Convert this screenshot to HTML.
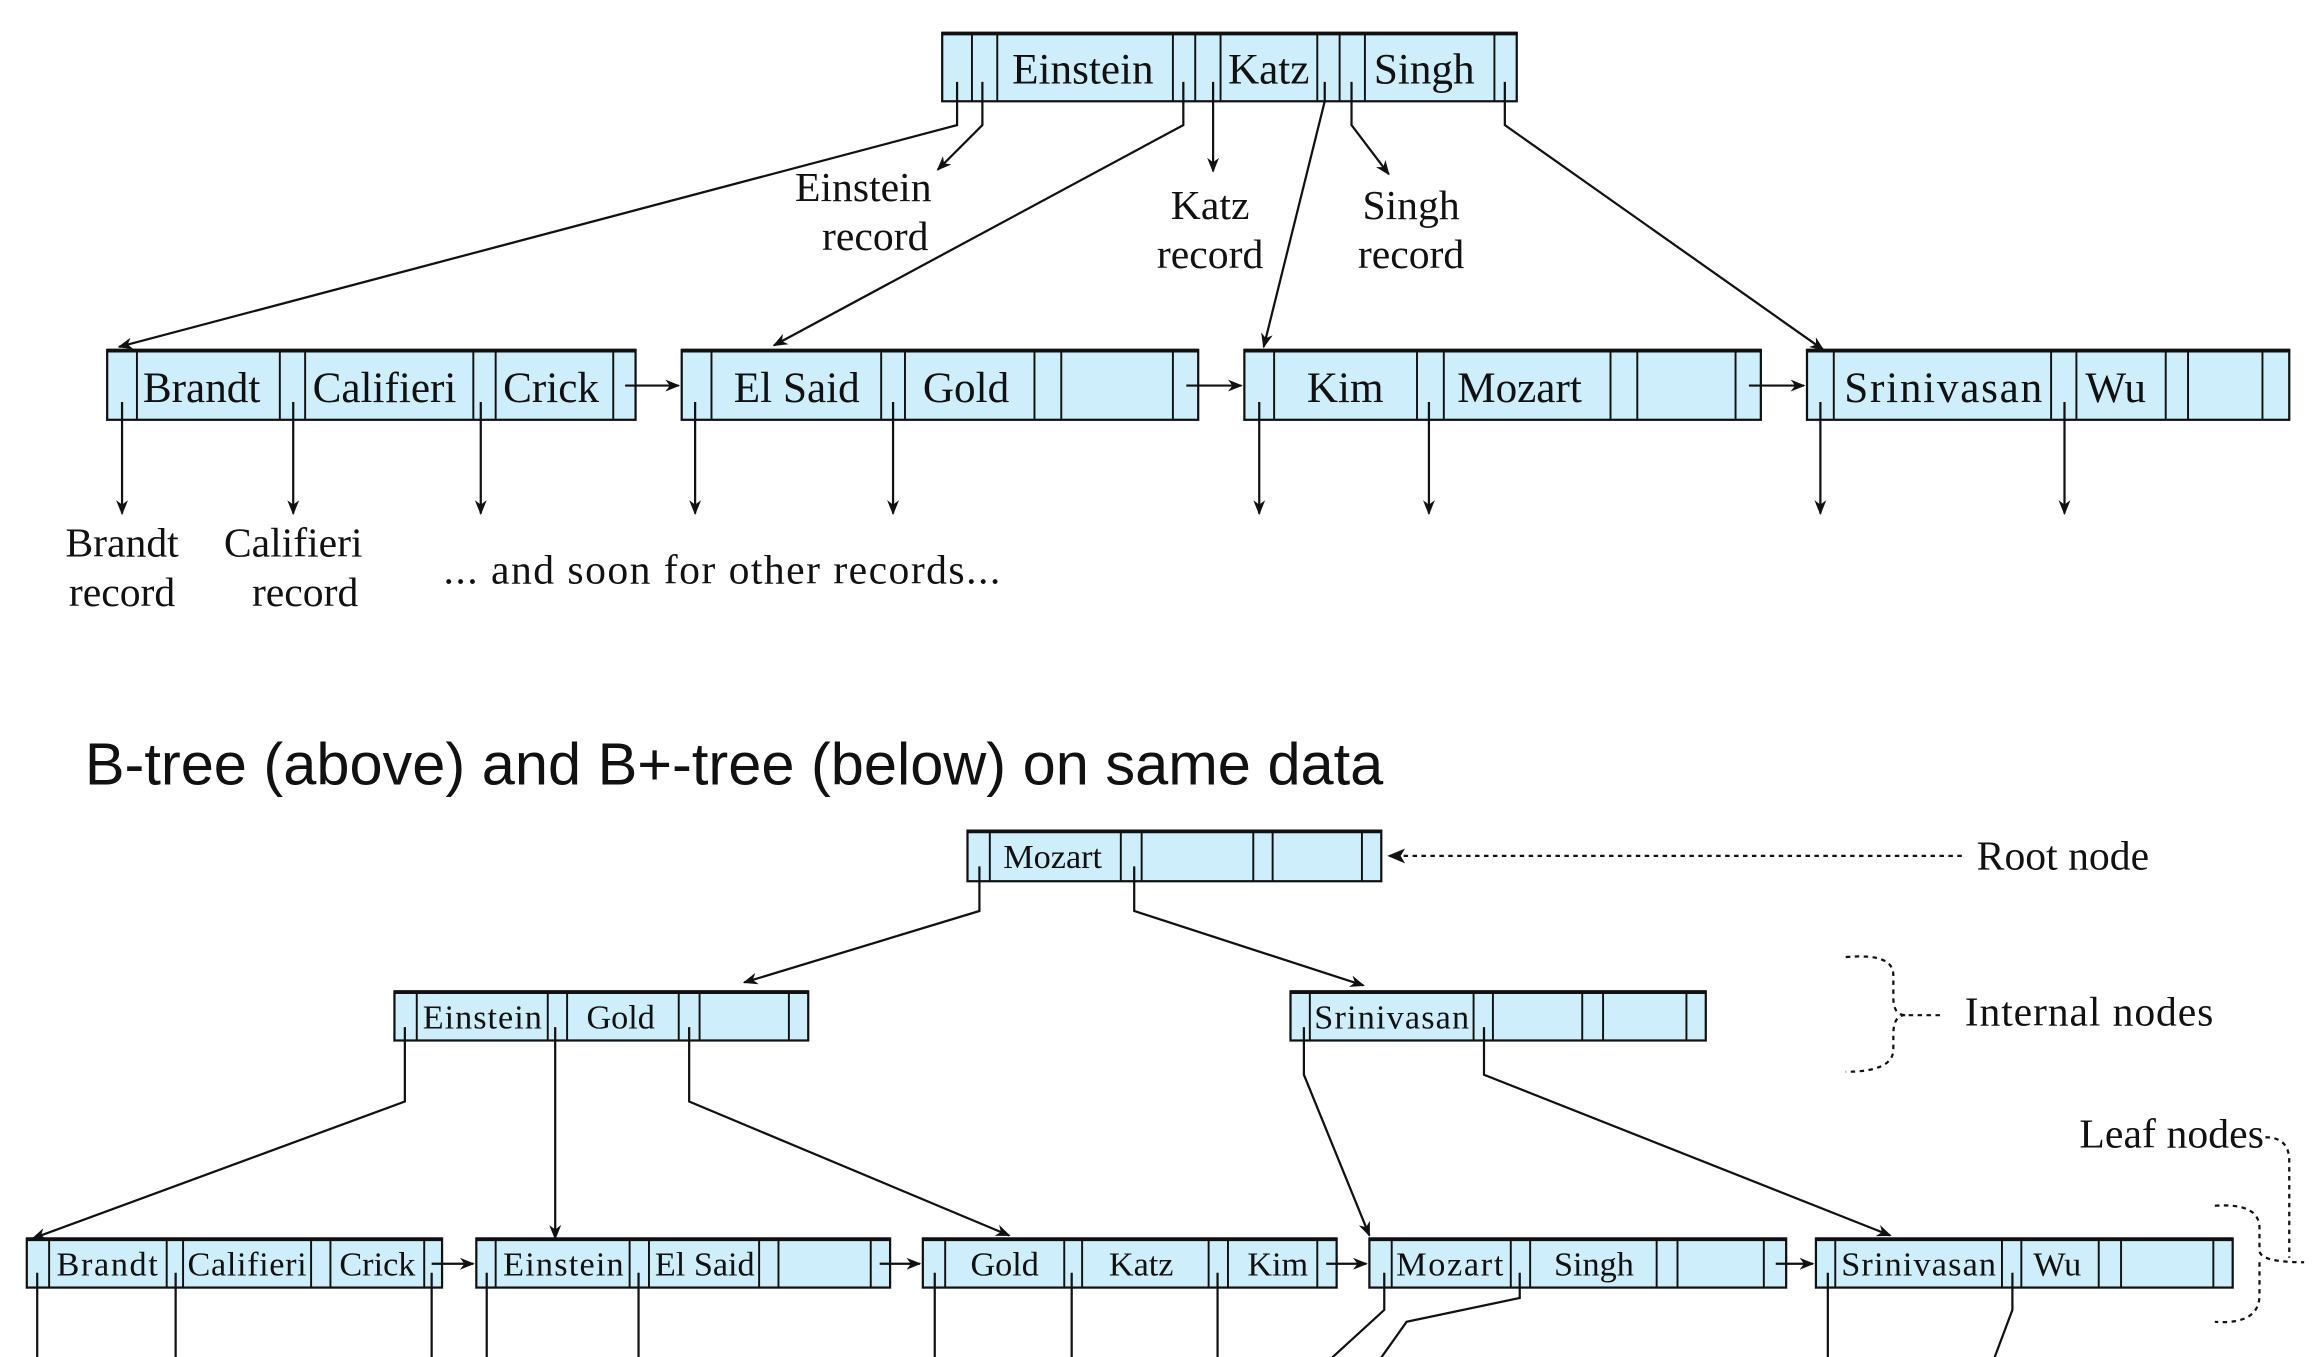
<!DOCTYPE html>
<html><head><meta charset="utf-8"><style>
html,body{margin:0;padding:0;background:#fff;}
svg{display:block;}
text{font-family:"Liberation Serif",serif;fill:#111;}
.n rect{fill:#cdeefa;stroke:#111;stroke-width:1.5;}
.n line{stroke:#111;stroke-width:1.3;}
.w{stroke:#111;stroke-width:1.5;fill:none;}
.d{stroke:#111;stroke-width:1.5;fill:none;stroke-dasharray:3,3;}
</style></head><body>
<svg width="2322" height="1357" viewBox="0 0 1560 911.6" xmlns="http://www.w3.org/2000/svg">
<defs>
<marker id="a" markerWidth="10" markerHeight="8" refX="9" refY="4" orient="auto" markerUnits="userSpaceOnUse"><path d="M0,0 L10,4 L0,8 L3,4 z" fill="#111"/></marker>
</defs>

<!-- B-tree root -->
<g class="n"><rect x="633" y="22" width="386" height="46"/>
<line x1="653" y1="22" x2="653" y2="68"/><line x1="670" y1="22" x2="670" y2="68"/>
<line x1="788" y1="22" x2="788" y2="68"/><line x1="803" y1="22" x2="803" y2="68"/><line x1="820" y1="22" x2="820" y2="68"/>
<line x1="885" y1="22" x2="885" y2="68"/><line x1="900" y1="22" x2="900" y2="68"/><line x1="917" y1="22" x2="917" y2="68"/>
<line x1="1004" y1="22" x2="1004" y2="68"/></g>
<line x1="633" y1="22.5" x2="1019" y2="22.5" stroke="#111" stroke-width="2.5"/>
<g font-size="29"><text x="680" y="56">Einstein</text><text x="825" y="56">Katz</text><text x="923" y="56">Singh</text></g>

<path class="w" d="M643,55 V84 L80,233" marker-end="url(#a)"/>
<path class="w" d="M660,55 V84 L630,114" marker-end="url(#a)"/>
<path class="w" d="M795,55 V84 L520,232" marker-end="url(#a)"/>
<path class="w" d="M815,55 V115" marker-end="url(#a)"/>
<path class="w" d="M890,55 V68 L849,233" marker-end="url(#a)"/>
<path class="w" d="M908,55 V84 L933,117" marker-end="url(#a)"/>
<path class="w" d="M1011,55 V84 L1225,235" marker-end="url(#a)"/>
<g font-size="28" text-anchor="middle">
<text x="580" y="135">Einstein</text><text x="588" y="168">record</text>
<text x="813" y="147">Katz</text><text x="813" y="180">record</text>
<text x="948" y="147">Singh</text><text x="948" y="180">record</text>
<text x="82" y="374">Brandt</text><text x="82" y="407">record</text>
<text x="197" y="374">Califieri</text><text x="205" y="407">record</text>
</g>
<text x="298" y="392" font-size="28" textLength="374">... and soon for other records...</text>

<!-- B-tree leaves -->
<g class="n">
<rect x="72" y="235" width="355" height="47"/>
<line x1="92" y1="235" x2="92" y2="282"/><line x1="188" y1="235" x2="188" y2="282"/><line x1="205" y1="235" x2="205" y2="282"/>
<line x1="318" y1="235" x2="318" y2="282"/><line x1="333" y1="235" x2="333" y2="282"/><line x1="412" y1="235" x2="412" y2="282"/>
<rect x="458" y="235" width="347" height="47"/>
<line x1="478" y1="235" x2="478" y2="282"/><line x1="592" y1="235" x2="592" y2="282"/><line x1="608" y1="235" x2="608" y2="282"/>
<line x1="695" y1="235" x2="695" y2="282"/><line x1="713" y1="235" x2="713" y2="282"/><line x1="788" y1="235" x2="788" y2="282"/>
<rect x="836" y="235" width="347" height="47"/>
<line x1="856" y1="235" x2="856" y2="282"/><line x1="952" y1="235" x2="952" y2="282"/><line x1="970" y1="235" x2="970" y2="282"/>
<line x1="1082" y1="235" x2="1082" y2="282"/><line x1="1100" y1="235" x2="1100" y2="282"/><line x1="1166" y1="235" x2="1166" y2="282"/>
<rect x="1214" y="235" width="324" height="47"/>
<line x1="1232" y1="235" x2="1232" y2="282"/><line x1="1378" y1="235" x2="1378" y2="282"/><line x1="1395" y1="235" x2="1395" y2="282"/>
<line x1="1455" y1="235" x2="1455" y2="282"/><line x1="1470" y1="235" x2="1470" y2="282"/><line x1="1520" y1="235" x2="1520" y2="282"/>
</g>
<g stroke="#111" stroke-width="2.5"><line x1="72" y1="235.5" x2="427" y2="235.5"/><line x1="458" y1="235.5" x2="805" y2="235.5"/><line x1="836" y1="235.5" x2="1183" y2="235.5"/><line x1="1214" y1="235.5" x2="1538" y2="235.5"/></g>
<g font-size="29">
<text x="96" y="270">Brandt</text><text x="210" y="270">Califieri</text><text x="338" y="270">Crick</text>
<text x="493" y="270">El Said</text><text x="620" y="270">Gold</text>
<text x="878" y="270">Kim</text><text x="979" y="270">Mozart</text>
<text x="1239" y="270" textLength="133">Srinivasan</text><text x="1401" y="270">Wu</text>
</g>
<g class="w">
<path d="M82,270 V345" marker-end="url(#a)"/><path d="M197,270 V345" marker-end="url(#a)"/><path d="M323,270 V345" marker-end="url(#a)"/>
<path d="M467,270 V345" marker-end="url(#a)"/><path d="M600,270 V345" marker-end="url(#a)"/>
<path d="M846,270 V345" marker-end="url(#a)"/><path d="M960,270 V345" marker-end="url(#a)"/>
<path d="M1223,270 V345" marker-end="url(#a)"/><path d="M1387,270 V345" marker-end="url(#a)"/>
<path d="M420,259 H456" marker-end="url(#a)"/><path d="M797,259 H834" marker-end="url(#a)"/><path d="M1175,259 H1212" marker-end="url(#a)"/>
</g>

<text x="57" y="527" font-size="40" style="font-family:'Liberation Sans',sans-serif">B-tree (above) and B+-tree (below) on same data</text>

<!-- B+ root -->
<g class="n"><rect x="650" y="558" width="278" height="34"/>
<line x1="665" y1="558" x2="665" y2="592"/><line x1="753" y1="558" x2="753" y2="592"/><line x1="767" y1="558" x2="767" y2="592"/>
<line x1="842" y1="558" x2="842" y2="592"/><line x1="855" y1="558" x2="855" y2="592"/><line x1="915" y1="558" x2="915" y2="592"/></g>
<line x1="650" y1="558.5" x2="928" y2="558.5" stroke="#111" stroke-width="2.5"/>
<text x="674" y="583" font-size="23">Mozart</text>
<path class="d" d="M1318,575 H934"/><path d="M932,575 L944,570 L941,575 L944,580 z" fill="#111"/>
<text x="1328" y="584" font-size="28">Root node</text>
<path class="w" d="M658,582 V612 L500,660" marker-end="url(#a)"/>
<path class="w" d="M762,582 V612 L916,662" marker-end="url(#a)"/>

<!-- internal -->
<g class="n"><rect x="265" y="666" width="278" height="33"/>
<line x1="280" y1="666" x2="280" y2="699"/><line x1="368" y1="666" x2="368" y2="699"/><line x1="381" y1="666" x2="381" y2="699"/>
<line x1="456" y1="666" x2="456" y2="699"/><line x1="470" y1="666" x2="470" y2="699"/><line x1="530" y1="666" x2="530" y2="699"/>
<rect x="867" y="666" width="279" height="33"/>
<line x1="880" y1="666" x2="880" y2="699"/><line x1="990" y1="666" x2="990" y2="699"/><line x1="1003" y1="666" x2="1003" y2="699"/>
<line x1="1063" y1="666" x2="1063" y2="699"/><line x1="1077" y1="666" x2="1077" y2="699"/><line x1="1133" y1="666" x2="1133" y2="699"/></g>
<g stroke="#111" stroke-width="2.5"><line x1="265" y1="666.5" x2="543" y2="666.5"/><line x1="867" y1="666.5" x2="1146" y2="666.5"/></g>
<g font-size="23"><text x="284" y="691" textLength="80">Einstein</text><text x="394" y="691">Gold</text><text x="883" y="691" textLength="104">Srinivasan</text></g>
<g class="w">
<path d="M272,690 V740 L22,832" marker-end="url(#a)"/>
<path d="M373,690 V832" marker-end="url(#a)"/>
<path d="M463,690 V740 L678,830" marker-end="url(#a)"/>
<path d="M876,690 V722 L920,830" marker-end="url(#a)"/>
<path d="M997,690 V722 L1270,830" marker-end="url(#a)"/>
</g>
<path class="d" d="M1240,643 Q1272,640 1272,655 V670 Q1272,682 1280,682 H1305 M1280,682 Q1272,682 1272,695 V705 Q1272,720 1240,720"/>
<text x="1320" y="689" font-size="28" textLength="167">Internal nodes</text>
<text x="1397" y="771" font-size="28" textLength="124">Leaf nodes</text>
<path class="d" d="M1522,764 Q1538,764 1538,780 V845 M1488,810 Q1518,808 1518,825 V840 Q1518,848 1548,848 M1518,848 V870 Q1518,890 1488,888"/>

<!-- leaves -->
<g class="n">
<rect x="18" y="832" width="279" height="33"/>
<line x1="33" y1="832" x2="33" y2="865"/><line x1="112" y1="832" x2="112" y2="865"/><line x1="123" y1="832" x2="123" y2="865"/>
<line x1="209" y1="832" x2="209" y2="865"/><line x1="222" y1="832" x2="222" y2="865"/><line x1="285" y1="832" x2="285" y2="865"/>
<rect x="320" y="832" width="278" height="33"/>
<line x1="333" y1="832" x2="333" y2="865"/><line x1="423" y1="832" x2="423" y2="865"/><line x1="436" y1="832" x2="436" y2="865"/>
<line x1="510" y1="832" x2="510" y2="865"/><line x1="523" y1="832" x2="523" y2="865"/><line x1="585" y1="832" x2="585" y2="865"/>
<rect x="620" y="832" width="278" height="33"/>
<line x1="635" y1="832" x2="635" y2="865"/><line x1="715" y1="832" x2="715" y2="865"/><line x1="727" y1="832" x2="727" y2="865"/>
<line x1="812" y1="832" x2="812" y2="865"/><line x1="825" y1="832" x2="825" y2="865"/><line x1="885" y1="832" x2="885" y2="865"/>
<rect x="920" y="832" width="280" height="33"/>
<line x1="935" y1="832" x2="935" y2="865"/><line x1="1015" y1="832" x2="1015" y2="865"/><line x1="1028" y1="832" x2="1028" y2="865"/>
<line x1="1113" y1="832" x2="1113" y2="865"/><line x1="1127" y1="832" x2="1127" y2="865"/><line x1="1185" y1="832" x2="1185" y2="865"/>
<rect x="1220" y="832" width="280" height="33"/>
<line x1="1233" y1="832" x2="1233" y2="865"/><line x1="1345" y1="832" x2="1345" y2="865"/><line x1="1358" y1="832" x2="1358" y2="865"/>
<line x1="1410" y1="832" x2="1410" y2="865"/><line x1="1425" y1="832" x2="1425" y2="865"/><line x1="1487" y1="832" x2="1487" y2="865"/>
</g>
<g stroke="#111" stroke-width="2.5"><line x1="18" y1="832.5" x2="297" y2="832.5"/><line x1="320" y1="832.5" x2="598" y2="832.5"/><line x1="620" y1="832.5" x2="898" y2="832.5"/><line x1="920" y1="832.5" x2="1200" y2="832.5"/><line x1="1220" y1="832.5" x2="1500" y2="832.5"/></g>
<g font-size="23">
<text x="38" y="857" textLength="68">Brandt</text><text x="126" y="857" textLength="80">Califieri</text><text x="228" y="857">Crick</text>
<text x="338" y="857" textLength="81">Einstein</text><text x="440" y="857" textLength="67">El Said</text>
<text x="652" y="857">Gold</text><text x="745" y="857">Katz</text><text x="838" y="857">Kim</text>
<text x="938" y="857" textLength="72">Mozart</text><text x="1044" y="857">Singh</text>
<text x="1237" y="857" textLength="104">Srinivasan</text><text x="1366" y="857">Wu</text>
</g>
<g class="w" stroke-width="1.3">
<path d="M25,855 V912"/><path d="M118,855 V912"/><path d="M290,855 V912"/>
<path d="M327,855 V912"/><path d="M429,855 V912"/>
<path d="M628,855 V912"/><path d="M720,855 V912"/><path d="M818,855 V912"/>
<path d="M930,855 V880 L895,912"/><path d="M1021,855 V872 L945,888 L928,912"/>
<path d="M1228,855 V912"/><path d="M1352,855 V880 L1340,912"/>
</g>
<g class="w">
<path d="M290,849 H318" marker-end="url(#a)"/><path d="M591,849 H618" marker-end="url(#a)"/>
<path d="M891,849 H918" marker-end="url(#a)"/><path d="M1193,849 H1218" marker-end="url(#a)"/>
</g>
</svg>
</body></html>
